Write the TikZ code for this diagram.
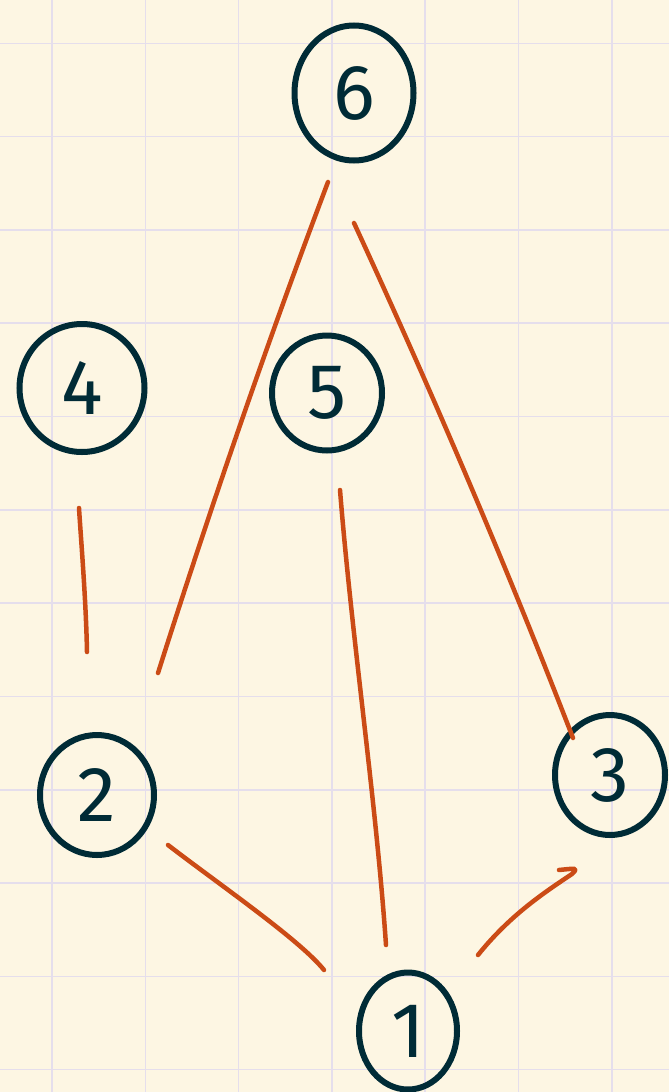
\documentclass[tikz,border=0pt]{standalone}
\usepackage{fontspec}
\setmainfont{Fira Sans}
\usetikzlibrary{shapes.geometric}
\definecolor{bg}{HTML}{FDF6E3}
\definecolor{gridc}{HTML}{E5DEEC}
\definecolor{ink}{HTML}{002B36}
\definecolor{edgec}{HTML}{CB4B16}
\tikzset{
  vertex/.style={ellipse, draw=ink, line width=6pt, inner sep=0pt, text=ink,
    font=\fontsize{78}{84}\selectfont},
  link/.style={draw=edgec, line width=4.5pt, line cap=round, line join=round},
  gridline/.style={draw=gridc, line width=1.6pt}
}
\begin{document}
\begin{tikzpicture}[x=1pt, y=-1pt]
\fill[bg] (0,0) rectangle (669,1092);
\useasboundingbox (0,0) rectangle (669,1092);
\foreach \k in {0,...,6} {
  \draw[gridline] ({52+93.3*\k},0) -- ({52+93.3*\k},1092);
}
\foreach \k in {0,...,11} {
  \draw[gridline] (0,{43.3+93.3*\k}) -- (669,{43.3+93.3*\k});
}
% nodes
\node[vertex, minimum width=119pt, minimum height=135pt] (n6) at (354,93) {6};
\node[vertex, minimum width=125pt, minimum height=128pt] (n4) at (82,388) {4};
\node[vertex, minimum width=110pt, minimum height=115pt] (n5) at (327,393) {5};
\node[vertex, minimum width=114pt, minimum height=120pt] (n2) at (97,795) {2};
\node[vertex, minimum width=110pt, minimum height=120pt] (n3) at (610,775) {3};
\node[vertex, minimum width=98pt, minimum height=117pt] (n1) at (408,1031) {1};
% connector ends
\coordinate (c62a) at (328,182);
\coordinate (c62b) at (158,673);
\coordinate (c63a) at (354,223);
\coordinate (c63b) at (573,738);
\coordinate (c42a) at (79,508);
\coordinate (c42b) at (87,652);
\coordinate (c51a) at (340,490);
\coordinate (c51b) at (386,945);
\coordinate (c21a) at (168,845);
\coordinate (c21b) at (324,970);
\coordinate (c13a) at (478,955);
\coordinate (c13b) at (572,874);
\coordinate (c13c) at (559,870);
% connectors
\draw[link] (c62a) .. controls (266,346) and (210,509) .. (c62b);
\draw[link] (c63a) .. controls (433,394) and (506,565) .. (c63b);
\draw[link] (c42a) .. controls (81,540) and (86,600) .. (c42b);
\draw[link] (c51a) .. controls (352,640) and (376,800) .. (c51b);
\draw[link] (c21a) .. controls (220,885) and (300,940) .. (c21b);
\draw[link] (c13a) .. controls (510,915) and (545,892) .. (c13b) .. controls (578,868) .. (c13c);
\end{tikzpicture}
\end{document}
